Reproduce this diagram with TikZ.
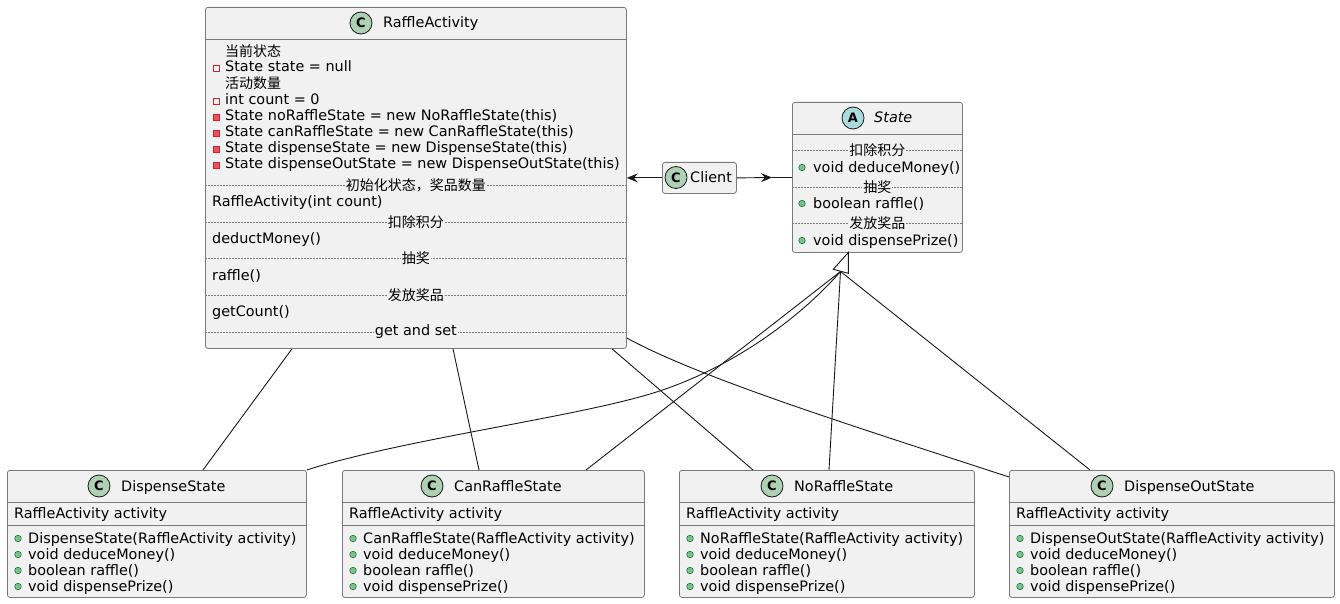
\documentclass[tikz,border=0pt]{standalone}
\usepackage{fontspec}
\setmainfont{DejaVu Sans}
\newfontfamily\cjk{Noto Sans CJK SC}
\usetikzlibrary{arrows.meta}
\definecolor{boxfill}{HTML}{F1F1F1}
\definecolor{boxline}{HTML}{7A7A7A}
\definecolor{edgec}{HTML}{181818}
\definecolor{cgreen}{HTML}{ADD1B2}
\definecolor{ablue}{HTML}{A9DCDF}
\definecolor{privline}{HTML}{C82930}
\definecolor{privfill}{HTML}{F24D5C}
\definecolor{publine}{HTML}{038048}
\definecolor{pubfill}{HTML}{84BE84}
\newcommand\fsz{\fontsize{14.4}{16}\selectfont}
\newcommand\csz{\fontsize{14}{16}\selectfont\cjk}
\newcommand\subclass[5]{%
  \node[box, minimum width=#3pt, minimum height=127pt] (#1) at (#2,470) {};
  \draw[hsep] (#1.west |- 0,502) -- (#1.east |- 0,502);
  \draw[hsep] (#1.west |- 0,525) -- (#1.east |- 0,525);
  \node[badge, fill=cgreen] (#1b) at (#4,486) {C};
  \node[txt] (#1t) at (#4+22,491) {#5};
  \node[txt] (#1f) at (#2+7,518) {RaffleActivity activity};
  \node[pub] (#1i1) at (#2+11,538.5) {};
  \node[txt] (#1m1) at (#2+21,543) {#5(RaffleActivity activity)};
  \node[pub] (#1i2) at (#2+11,554.5) {};
  \node[txt] (#1m2) at (#2+21,559) {void deduceMoney()};
  \node[pub] (#1i3) at (#2+11,570.5) {};
  \node[txt] (#1m3) at (#2+21,575) {boolean raffle()};
  \node[pub] (#1i4) at (#2+11,586.5) {};
  \node[txt] (#1m4) at (#2+21,591) {void dispensePrize()};
}
\begin{document}
\begin{tikzpicture}[x=1pt,y=-1pt,
 box/.style={draw=boxline, fill=boxfill, line width=0.8pt, rounded corners=2.5pt, anchor=north west, inner sep=0pt},
 badge/.style={circle, draw=edgec, line width=0.8pt, minimum size=22pt, inner sep=0pt, font=\fontsize{13}{13}\selectfont\bfseries},
 txt/.style={anchor=base west, inner sep=0pt, font=\fsz},
 ctxt/.style={anchor=base west, inner sep=0pt, font=\csz},
 privo/.style={rectangle, draw=privline, fill=none, line width=0.8pt, minimum size=6pt, inner sep=0pt},
 privf/.style={rectangle, draw=privline, fill=privfill, line width=0.8pt, minimum size=6pt, inner sep=0pt},
 pub/.style={circle, draw=publine, fill=pubfill, line width=0.6pt, minimum size=6.5pt, inner sep=0pt},
 sepline/.style={draw=boxline, line width=0.6pt, dash pattern=on 1.5pt off 1.5pt},
 hsep/.style={draw=boxline, line width=0.8pt},
 seplabel/.style={fill=boxfill, inner sep=1pt, font=\csz},
 conn/.style={draw=edgec, line width=0.9pt},
 arr/.style={conn, -{Stealth[length=11pt,width=9pt,inset=4pt]}},
]
\useasboundingbox (0,0) rectangle (1340,604);

% ---------- RaffleActivity ----------
\node[box, minimum width=421pt, minimum height=341pt] (ra) at (205,7) {};
\draw[hsep] (ra.west |- 0,39) -- (ra.east |- 0,39);
\node[badge, fill=cgreen] (rab) at (361,23) {C};
\node[txt] (rat) at (383,28) {RaffleActivity};
\node[ctxt] (ra1) at (225,57) {当前状态};
\node[privo] (rai2) at (216,68) {};
\node[txt] (ra2) at (225,72) {State state = null};
\node[ctxt] (ra3) at (225,89) {活动数量};
\node[privo] (rai4) at (216,101) {};
\node[txt] (ra4) at (225,105) {int count = 0};
\node[privf] (rai5) at (216,117) {};
\node[txt] (ra5) at (225,121) {State noRaffleState = new NoRaffleState(this)};
\node[privf] (rai6) at (216,133) {};
\node[txt] (ra6) at (225,137) {State canRaffleState = new CanRaffleState(this)};
\node[privf] (rai7) at (216,149) {};
\node[txt] (ra7) at (225,153) {State dispenseState = new DispenseState(this)};
\node[privf] (rai8) at (216,165) {};
\node[txt] (ra8) at (225,169) {State dispenseOutState = new DispenseOutState(this)};
\draw[sepline] (ra.west |- 0,185) -- (ra.east |- 0,185);
\node[seplabel] (ras1) at (ra.center |- 0,185) {初始化状态，奖品数量};
\node[txt] (ram1) at (212,207) {RaffleActivity(int count)};
\draw[sepline] (ra.west |- 0,222) -- (ra.east |- 0,222);
\node[seplabel] (ras2) at (ra.center |- 0,222) {扣除积分};
\node[txt] (ram2) at (212,243) {deductMoney()};
\draw[sepline] (ra.west |- 0,258) -- (ra.east |- 0,258);
\node[seplabel] (ras3) at (ra.center |- 0,258) {抽奖};
\node[txt] (ram3) at (212,280) {raffle()};
\draw[sepline] (ra.west |- 0,295) -- (ra.east |- 0,295);
\node[seplabel] (ras4) at (ra.center |- 0,295) {发放奖品};
\node[txt] (ram4) at (212,316) {getCount()};
\draw[sepline] (ra.west |- 0,332) -- (ra.east |- 0,332);
\node[seplabel, font=\fsz] (ras5) at (ra.center |- 0,332) {get and set};

% ---------- State ----------
\node[box, minimum width=170pt, minimum height=150pt] (st) at (792,102) {};
\draw[hsep] (st.west |- 0,134) -- (st.east |- 0,134);
\node[badge, fill=ablue] (stb) at (853,118) {A};
\node[txt, font=\fsz\itshape] (stt) at (874,123) {State};
\draw[sepline] (st.west |- 0,150) -- (st.east |- 0,150);
\node[seplabel] (sts1) at (st.center |- 0,150) {扣除积分};
\node[pub] (sti1) at (802,167.5) {};
\node[txt] (stm1) at (813,172) {void deduceMoney()};
\draw[sepline] (st.west |- 0,187) -- (st.east |- 0,187);
\node[seplabel] (sts2) at (st.center |- 0,187) {抽奖};
\node[pub] (sti2) at (802,203.5) {};
\node[txt] (stm2) at (813,208) {boolean raffle()};
\draw[sepline] (st.west |- 0,223) -- (st.east |- 0,223);
\node[seplabel] (sts3) at (st.center |- 0,223) {发放奖品};
\node[pub] (sti3) at (802,240.5) {};
\node[txt] (stm3) at (813,245) {void dispensePrize()};

% ---------- Client ----------
\node[box, minimum width=74pt, minimum height=31pt] (cl) at (662,162) {};
\node[badge, fill=cgreen] (clb) at (676,177.5) {C};
\node[txt] (clt) at (690,182.5) {Client};

% ---------- subclasses ----------
\subclass{ds}{7}{299}{99}{DispenseState}
\subclass{crs}{342}{302}{432}{CanRaffleState}
\subclass{nrs}{679}{295}{772}{NoRaffleState}
\subclass{dos}{1009}{325}{1102}{DispenseOutState}

% ---------- connectors ----------
\coordinate (cw) at (772,177.5);
\draw[arr] (cl.west) -- (ra.east |- cl.west);
\draw[arr] (cl.east) -- (cw);
\draw[conn] (cw) -- (st.west |- cw);

\draw[conn] (292,0 |- ra.south) -- (203,0 |- ds.north);
\draw[conn] (453,0 |- ra.south) -- (479,0 |- crs.north);
\draw[conn] (612,0 |- ra.south) -- (753,0 |- nrs.north);
\draw[conn] (ra.east |- 0,338) .. controls (700,378) and (850,425) .. (dos.west |- 0,477);

\coordinate (inh) at (840.5,271.5);
\draw[conn] (inh) .. controls (800,318) and (730,370) .. (650,394) .. controls (570,418) and (400,440) .. (ds.north east);
\draw[conn] (inh) -- (586,0 |- crs.north);
\draw[conn] (inh) -- (829,0 |- nrs.north);
\draw[conn] (inh) -- (1090,0 |- dos.north);
\draw[conn, fill=white, line join=miter] (848.3,252.5) -- (833.3,269.3) -- (848.3,273.3) -- cycle;
\end{tikzpicture}
\end{document}
